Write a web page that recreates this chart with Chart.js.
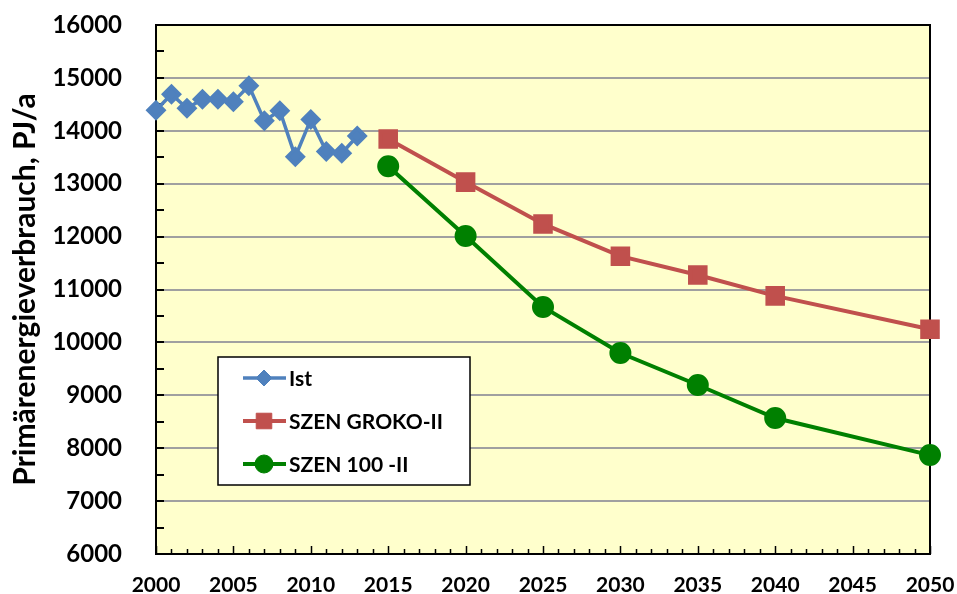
<!DOCTYPE html>
<html>
<head>
<meta charset="utf-8">
<script src="https://cdn.jsdelivr.net/npm/chart.js@4.4.0/dist/chart.umd.min.js"></script>
<style>
  body { margin: 0; background: #fff; }
</style>
</head>
<body>
<canvas id="myChart" width="957" height="594"></canvas>
<script>
// values
const istYears = [2000, 2001, 2002, 2003, 2004, 2005, 2006, 2007, 2008, 2009, 2010, 2011, 2012, 2013];
const istValues = [14390, 14690, 14425, 14595, 14595, 14550, 14850, 14190, 14380, 13510, 14215, 13610, 13575, 13900];
const szenYears = [2015, 2020, 2025, 2030, 2035, 2040, 2050];
const grokoValues = [13845, 13030, 12240, 11630, 11275, 10880, 10250];
const szen100Values = [13330, 12010, 10670, 9800, 9195, 8570, 7870];
const seriesNames = ['Ist', 'SZEN GROKO-II', 'SZEN 100 -II'];
const xTickLabels = [2000, 2005, 2010, 2015, 2020, 2025, 2030, 2035, 2040, 2045, 2050];
const yTickLabels = [6000, 7000, 8000, 9000, 10000, 11000, 12000, 13000, 14000, 15000, 16000];

const FONT = 'Lato';

function toPoints(xs, ys) {
    return xs.map(function (x, i) { return { x: x, y: ys[i] }; });
}

// no automatic padding for overflowing labels, so the plot area stays where the layout puts it
function noOverflow(scale) {
    scale.paddingTop = 0;
    scale.paddingBottom = 0;
    scale.paddingLeft = 0;
    scale.paddingRight = 0;
}

// yellow plot area
const plotBackground = {
    id: 'plotBackground',
    beforeDraw: function (chart) {
        const a = chart.chartArea, ctx = chart.ctx;
        ctx.save();
        ctx.fillStyle = '#FFFFCC';
        ctx.fillRect(a.left, a.top, a.right - a.left, a.bottom - a.top);
        ctx.restore();
    }
};

// border and inner tick marks
const plotFrame = {
    id: 'plotFrame',
    beforeDatasetsDraw: function (chart) {
        const a = chart.chartArea, ctx = chart.ctx;
        const xs = chart.scales.x, ys = chart.scales.y;
        ctx.save();
        ctx.strokeStyle = '#000';
        ctx.lineWidth = 2;
        ctx.beginPath();
        for (let v = ys.min; v <= ys.max; v += 500) {
            const y = Math.round(ys.getPixelForValue(v));
            ctx.moveTo(a.left, y);
            ctx.lineTo(a.left + 8, y);
        }
        ctx.stroke();
        ctx.lineWidth = 1.5;
        ctx.beginPath();
        for (let yr = xs.min; yr <= xs.max; yr++) {
            const x = Math.round(xs.getPixelForValue(yr)) + 0.5;
            const len = (yr % 5 === 0) ? 8 : 5;
            ctx.moveTo(x, a.bottom);
            ctx.lineTo(x, a.bottom - len);
        }
        ctx.stroke();
        ctx.lineWidth = 2;
        ctx.strokeRect(a.left, a.top, a.right - a.left, a.bottom - a.top);
        ctx.restore();
    }
};

// legend box inside the plot
const boxLegend = {
    id: 'boxLegend',
    afterDraw: function (chart) {
        const ctx = chart.ctx;
        const box = { left: 218, top: 357, right: 470, bottom: 485 };
        ctx.save();
        ctx.fillStyle = '#fff';
        ctx.fillRect(box.left, box.top, box.right - box.left, box.bottom - box.top);
        ctx.strokeStyle = '#000';
        ctx.lineWidth = 1.5;
        ctx.strokeRect(box.left, box.top, box.right - box.left, box.bottom - box.top);
        chart.data.datasets.forEach(function (ds, i) {
            const y = box.top + 21 + i * 43;
            ctx.strokeStyle = ds.borderColor;
            ctx.lineWidth = ds.borderWidth;
            ctx.beginPath();
            ctx.moveTo(243, y);
            ctx.lineTo(286, y);
            ctx.stroke();
            ctx.fillStyle = ds.pointBackgroundColor;
            ctx.strokeStyle = ds.pointBackgroundColor;
            ctx.lineWidth = 1;
            Chart.helpers.drawPoint(ctx, { pointStyle: ds.pointStyle, radius: ds.pointRadius, rotation: 0, borderWidth: 1 }, 264, y);
            ctx.fillStyle = '#000';
            ctx.font = 'bold 21px ' + FONT;
            ctx.textBaseline = 'middle';
            ctx.fillText(ds.label, 289, y + 1);
        });
        ctx.restore();
    }
};

const data = {
    datasets: [{
        label: seriesNames[0],
        data: toPoints(istYears, istValues),
        borderColor: '#4F81BD',
        borderWidth: 3.5,
        pointStyle: 'rectRot',
        pointRadius: 8,
        pointBackgroundColor: '#4F81BD',
        pointBorderColor: '#4F81BD',
        clip: false
    }, {
        label: seriesNames[1],
        data: toPoints(szenYears, grokoValues),
        borderColor: '#C0504D',
        borderWidth: 4,
        pointStyle: 'rect',
        pointRadius: 11,
        pointBackgroundColor: '#C0504D',
        pointBorderColor: '#C0504D',
        clip: false
    }, {
        label: seriesNames[2],
        data: toPoints(szenYears, szen100Values),
        borderColor: '#008000',
        borderWidth: 4,
        pointStyle: 'circle',
        pointRadius: 9,
        pointBackgroundColor: '#008000',
        pointBorderColor: '#008000',
        clip: false
    }]
};

Chart.defaults.color = '#000';

const config = {
    type: 'line',
    data: data,
    options: {
        responsive: false,
        animation: false,
        devicePixelRatio: 1,
        layout: { padding: { top: 25, right: 27, left: 0, bottom: 0 } },
        elements: { line: { tension: 0 } },
        plugins: { legend: { display: false }, tooltip: { enabled: false } },
        scales: {
            x: {
                type: 'linear',
                min: 2000,
                max: 2050,
                afterFit: function (scale) { scale.height = 40; noOverflow(scale); },
                grid: { display: false, drawTicks: false },
                border: { display: false },
                ticks: {
                    stepSize: 5,
                    autoSkip: false,
                    maxRotation: 0,
                    padding: 19,
                    font: { family: FONT, size: 21, weight: 'bold' },
                    callback: function (v) { return xTickLabels.includes(v) ? String(v) : ''; }
                }
            },
            y: {
                min: 6000,
                max: 16000,
                afterFit: function (scale) { scale.width = 156; noOverflow(scale); },
                grid: {
                    drawTicks: false,
                    lineWidth: 2,
                    color: function (c) { return (c.tick && c.tick.value % 1000 === 0) ? '#A0A0A0' : 'rgba(0,0,0,0)'; }
                },
                border: { display: false },
                ticks: {
                    stepSize: 500,
                    autoSkip: false,
                    padding: 34,
                    font: { family: FONT, size: 24, weight: 'bold' },
                    callback: function (v) { return yTickLabels.includes(v) ? String(v) : ''; }
                },
                title: {
                    display: true,
                    text: 'Primärenergieverbrauch, PJ/a',
                    font: { family: FONT, size: 30, weight: 'bold' },
                    padding: { top: 7, bottom: 0 }
                }
            }
        }
    },
    plugins: [plotBackground, plotFrame, boxLegend]
};

const myChart = new Chart(document.getElementById('myChart'), config);
</script>
</body>
</html>
